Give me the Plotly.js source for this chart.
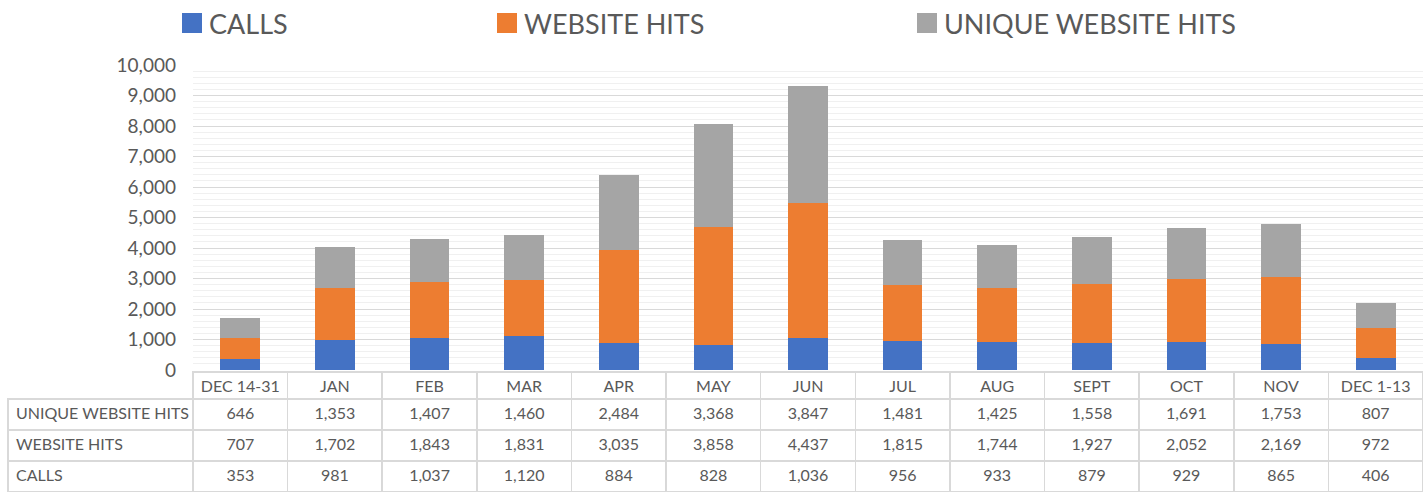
<!DOCTYPE html>
<html>
<head>
<meta charset="utf-8">
<script src="https://cdn.plot.ly/plotly-3.0.1.min.js"></script>
<style>html,body{margin:0;padding:0;background:#fff}#chart{width:1423px;height:493px}</style>
</head>
<body>
<div id="chart"></div>
<script>
const categories = ['DEC 14-31','JAN','FEB','MAR','APR','MAY','JUN','JUL','AUG','SEPT','OCT','NOV','DEC 1-13'];
const calls = [353,981,1037,1120,884,828,1036,956,933,879,929,865,406];
const websiteHits = [707,1702,1843,1831,3035,3858,4437,1815,1744,1927,2052,2169,972];
const uniqueHits = [646,1353,1407,1460,2484,3368,3847,1481,1425,1558,1691,1753,807];
const seriesNames = ['CALLS','WEBSITE HITS','UNIQUE WEBSITE HITS'];
const colors = ['#4472C4','#ED7D31','#A5A5A5'];

const W = 1423, H = 493;
const ML = 8, MR = 0;
const PW = W - ML - MR;
const px = x => (x - ML) / PW;      // pixel x -> paper x
const py = y => 1 - y / H;          // pixel y -> paper y
const font = 'Lato, "Open Sans", sans-serif';
const txt = '#595959';
const fmt = v => v.toLocaleString('en-US');
const nb = s => s.replace(/ /g, '\u00a0'); // keep table texts on one line

const series = [calls, websiteHits, uniqueHits];
const traces = series.map((vals, i) => ({
  type: 'bar', x: categories, y: vals, name: seriesNames[i],
  marker: {color: colors[i]}, width: 0.42, showlegend: false,
  xaxis: 'x', yaxis: 'y', hoverinfo: 'x+y+name'
}));

// data table below the plot
const rowOrder = [2, 1, 0]; // unique, website, calls
const tableCols = [rowOrder.map(r => nb(seriesNames[r]))];
categories.forEach((c, ci) => tableCols.push(rowOrder.map(r => fmt(series[r][ci]))));
const headerVals = [''].concat(categories.map(nb));
const axisLeft = 193;
const labelW = axisLeft - ML, catW = (W - axisLeft) / categories.length;
const lineC = '#d9d9d9';
traces.push({
  type: 'table',
  domain: {x: [0, 1], y: [0, py(372)]},
  columnwidth: [labelW].concat(categories.map(() => catW)),
  header: {
    values: headerVals,
    height: 27,
    align: 'center',
    fill: {color: ['rgba(255,255,255,0)'].concat(categories.map(() => 'white'))},
    line: {color: ['rgba(255,255,255,0)'].concat(categories.map(() => lineC)), width: 1.5},
    font: {family: font, size: 16, color: txt}
  },
  cells: {
    values: tableCols,
    height: 31,
    align: ['left'].concat(categories.map(() => 'center')),
    fill: {color: 'white'},
    line: {color: lineC, width: 1.5},
    font: {family: font, size: 16, color: txt}
  }
});

// legend drawn at the top
const legendPos = [182, 497, 917];
const shapes = [], annotations = [];
seriesNames.forEach((n, i) => {
  shapes.push({type: 'rect', xref: 'paper', yref: 'paper',
    x0: px(legendPos[i]), x1: px(legendPos[i] + 20),
    y0: py(33), y1: py(13),
    fillcolor: colors[i], line: {width: 0}});
  annotations.push({xref: 'paper', yref: 'paper', x: px(legendPos[i] + 25), y: py(23),
    xanchor: 'left', yanchor: 'middle', showarrow: false, text: n,
    font: {family: font, size: 27, color: txt}});
});

const layout = {
  width: W, height: H,
  margin: {l: ML, r: MR, t: 0, b: 0},
  paper_bgcolor: 'white', plot_bgcolor: 'white',
  barmode: 'stack',
  showlegend: false,
  xaxis: {domain: [px(axisLeft), 1], showticklabels: false, showgrid: false, zeroline: false, showline: false, ticks: ''},
  yaxis: {
    domain: [py(370), py(65)],
    range: [0, 10000], dtick: 1000, tickformat: ',d',
    gridcolor: '#d9d9d9', gridwidth: 1, zeroline: false, showline: false,
    ticks: '', ticklabelstandoff: 16,
    tickfont: {family: font, size: 19, color: txt},
    minor: {dtick: 200, showgrid: true, gridcolor: '#f0f0f0', gridwidth: 1}
  },
  shapes: shapes,
  annotations: annotations
};

Plotly.newPlot('chart', traces, layout, {displayModeBar: false, staticPlot: true});
</script>
</body>
</html>
